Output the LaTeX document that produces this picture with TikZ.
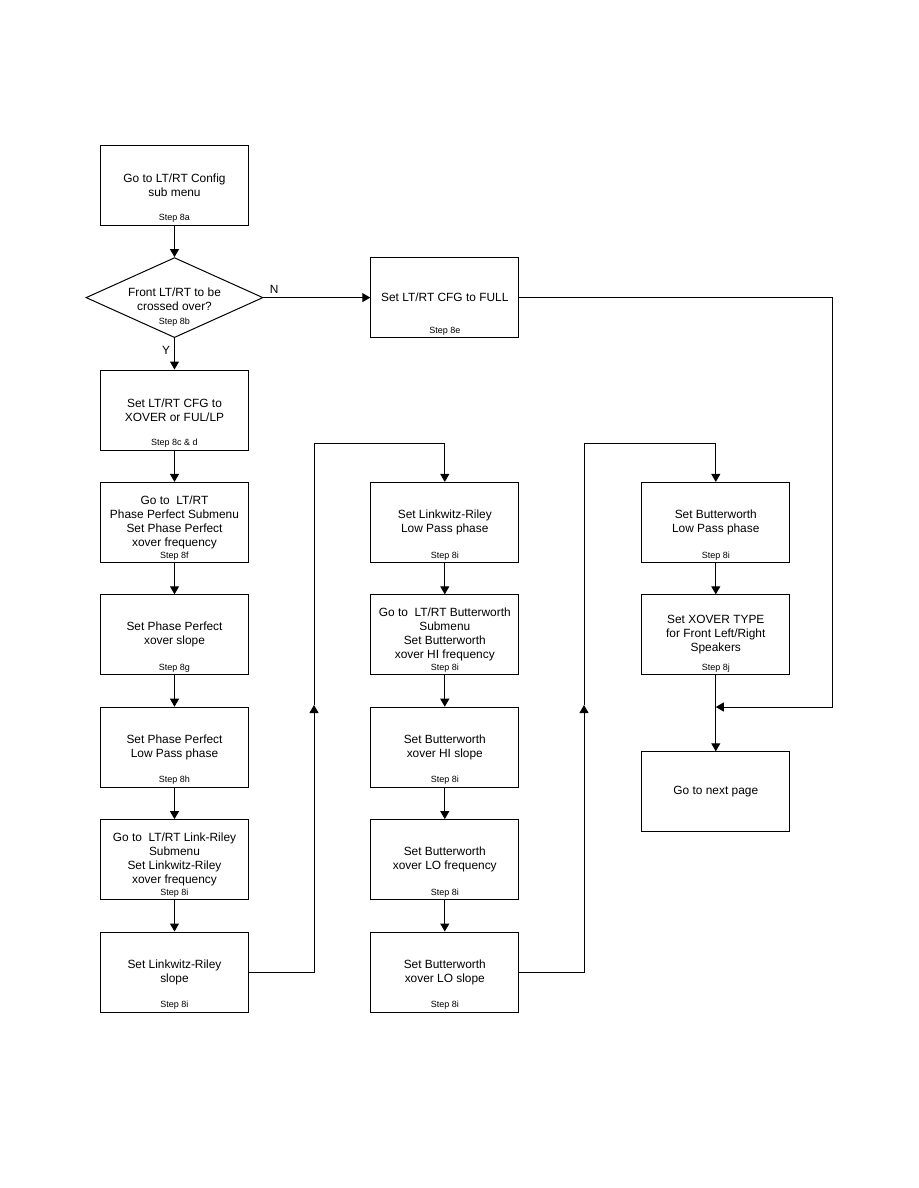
\documentclass[tikz,border=0pt]{standalone}
\usepackage{fontspec}
\setmainfont{Liberation Sans}
\usetikzlibrary{positioning,shapes.geometric,arrows.meta}

\begin{document}
\begin{tikzpicture}[x=1pt,y=1pt,
box/.style={draw,line width=1pt,anchor=center,
minimum width=148pt,minimum height=80pt,inner sep=3pt,
align=center,font=\fontsize{11.9}{14}\selectfont},
decision/.style={draw,diamond,line width=1pt,anchor=center,
minimum width=177pt,minimum height=80pt,inner sep=-25pt,
align=center,font=\fontsize{11.9}{14}\selectfont},
steptext/.style={font=\fontsize{9}{10}\selectfont,inner sep=0pt,yshift=11.5pt},
yn/.style={font=\fontsize{11.9}{14}\selectfont,inner sep=4pt},
arr/.style={line width=1pt,-{Triangle[length=8pt,width=9pt]}}]
\useasboundingbox (0,0) rectangle (918,-1188);
\matrix (chart) [row sep=31.4pt,column sep=107pt,anchor=north west,inner sep=0pt] at (85.5,-144.5)
{\node[box,label={[steptext]south:Step 8a}](s8a){Go to LT/RT Config\\sub menu};&
&[15pt]
\\
\node[decision](s8b){\rule{0pt}{27pt}Front LT/RT to be\\crossed over?\\{\fontsize{9}{10}\selectfont Step 8b}};&
\node[box,label={[steptext]south:Step 8e}](s8e){Set LT/RT CFG to FULL};&[15pt]
\\
\node[box,label={[steptext]south:Step 8c \& d}](s8c){Set LT/RT CFG to\\XOVER or FUL/LP};&
&[15pt]
\\
\node[box,label={[steptext]south:Step 8f}](s8f){Go to\ \ LT/RT\\Phase Perfect Submenu\\Set Phase Perfect\\xover frequency};&
\node[box,label={[steptext]south:Step 8i}](lrlp){Set Linkwitz-Riley\\Low Pass phase};&[15pt]
\node[box,label={[steptext]south:Step 8i}](bwlp){Set Butterworth\\Low Pass phase};\\
\node[box,label={[steptext]south:Step 8g}](s8g){Set Phase Perfect\\xover slope};&
\node[box,label={[steptext]south:Step 8i}](bwsub){Go to\ \ LT/RT Butterworth\\Submenu\\Set Butterworth\\xover HI frequency};&[15pt]
\node[box,label={[steptext]south:Step 8j}](xtype){Set XOVER TYPE\\for Front Left/Right\\Speakers};\\
\node[box,label={[steptext]south:Step 8h}](s8h){Set Phase Perfect\\Low Pass phase};&
\node[box,label={[steptext]south:Step 8i}](bwhis){Set Butterworth\\xover HI slope};&[15pt]
\\
\node[box,label={[steptext]south:Step 8i}](lrsub){Go to\ \ LT/RT Link-Riley\\Submenu\\Set Linkwitz-Riley\\xover frequency};&
\node[box,label={[steptext]south:Step 8i}](bwlof){Set Butterworth\\xover LO frequency};&[15pt]
\\
\node[box,label={[steptext]south:Step 8i}](lrslope){Set Linkwitz-Riley\\slope};&
\node[box,label={[steptext]south:Step 8i}](bwlos){Set Butterworth\\xover LO slope};&[15pt]
\\
};
\node[box,below=76pt of xtype](next){Go to next page};

\coordinate (up1) at (314,-705);
\coordinate (top1) at (314,-443);
\coordinate (up2) at (584,-705);
\coordinate (top2) at (584,-443);
\coordinate (rc) at (832,-707);

\draw[arr] (s8a) -- (s8b);
\draw[arr] (s8b) -- node[yn,left,pos=0.4]{Y} (s8c);
\draw[arr] (s8b.east) -- node[yn,above,pos=0.1]{N} (s8e.west);
\draw[arr] (s8c) -- (s8f);
\draw[arr] (s8f) -- (s8g);
\draw[arr] (s8g) -- (s8h);
\draw[arr] (s8h) -- (lrsub);
\draw[arr] (lrsub) -- (lrslope);
\draw[arr] (lrslope.east) -| (up1);
\draw[arr] (up1) -- (top1) -| (lrlp.north);
\draw[arr] (lrlp) -- (bwsub);
\draw[arr] (bwsub) -- (bwhis);
\draw[arr] (bwhis) -- (bwlof);
\draw[arr] (bwlof) -- (bwlos);
\draw[arr] (bwlos.east) -| (up2);
\draw[arr] (up2) -- (top2) -| (bwlp.north);
\draw[arr] (bwlp) -- (xtype);
\draw[arr] (xtype) -- (next);
\draw[arr] (s8e.east) -| (rc) -- (xtype.south |- rc);
\end{tikzpicture}
\end{document}
